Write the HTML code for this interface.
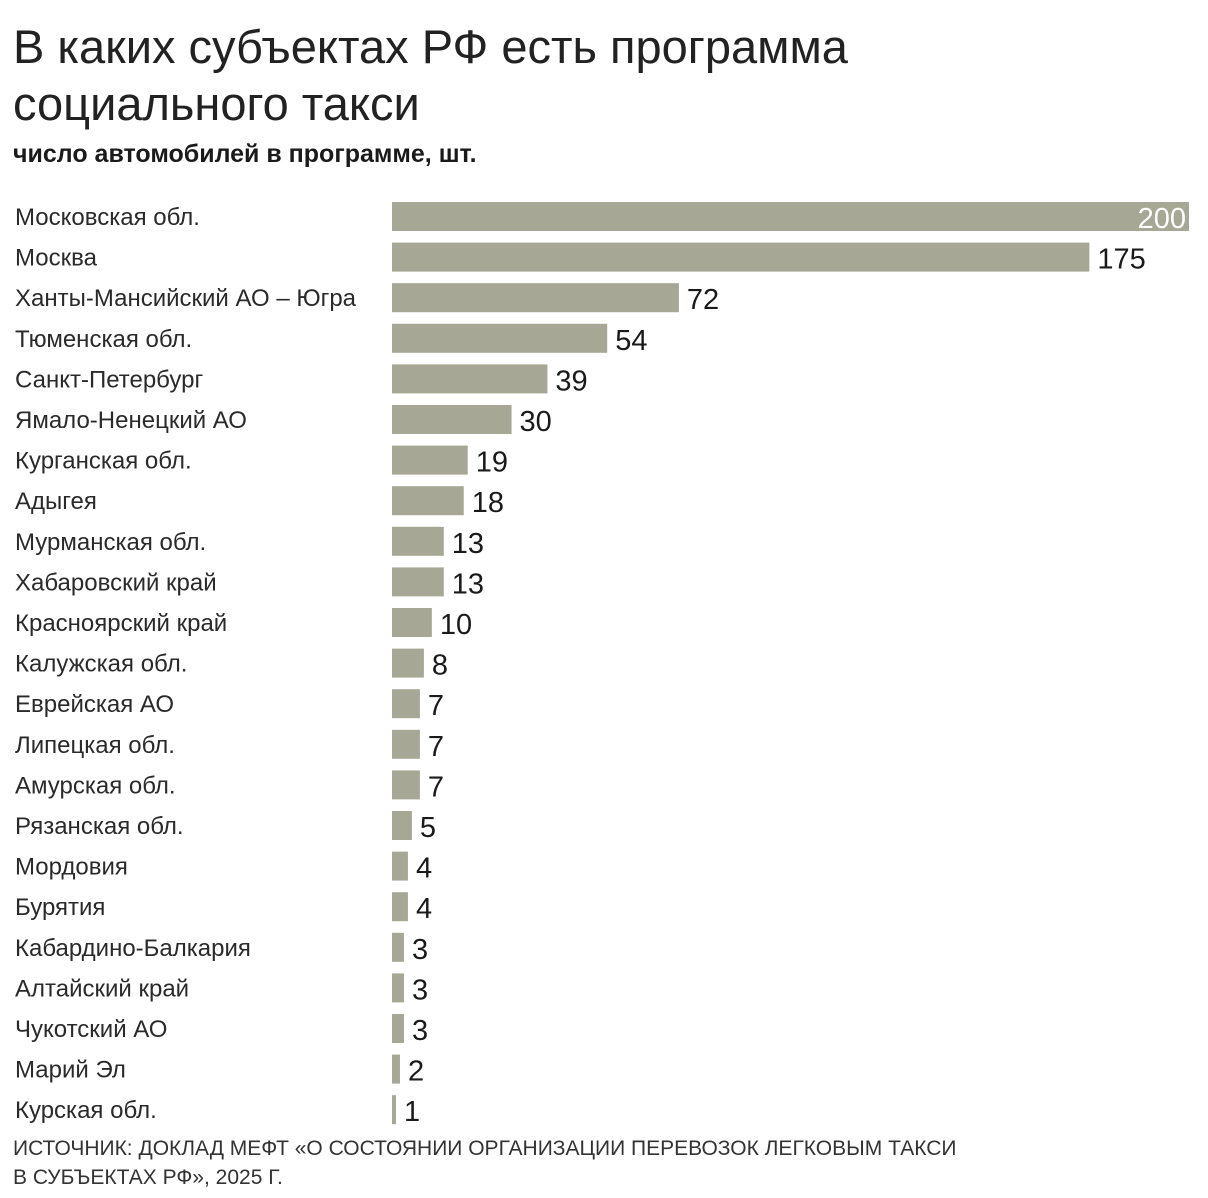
<!DOCTYPE html>
<html><head><meta charset="utf-8">
<style>
body{margin:0;background:#fff;width:1208px;height:1198px;overflow:hidden;font-family:"Liberation Sans","DejaVu Sans",sans-serif;color:#1a1a1a}
.t{position:absolute;left:13px;white-space:nowrap}
</style></head><body>
<div class="t" style="top:18px;font-size:47px;line-height:57px;font-weight:300;color:#222">В каких субъектах РФ есть программа<br>социального такси</div>
<div class="t" style="top:140px;font-size:25px;font-weight:bold">число автомобилей в программе, шт.</div>
<svg id="chart" width="1208" height="1198" style="position:absolute;left:0;top:0" xmlns="http://www.w3.org/2000/svg"></svg>
<div class="t" style="top:1134px;font-size:21px;line-height:29px;color:#333">ИСТОЧНИК: ДОКЛАД МЕФТ «О СОСТОЯНИИ ОРГАНИЗАЦИИ ПЕРЕВОЗОК ЛЕГКОВЫМ ТАКСИ<br>В СУБЪЕКТАХ РФ», 2025 Г.</div>
<script>
const categories=["Московская обл.","Москва","Ханты-Мансийский АО – Югра","Тюменская обл.","Санкт-Петербург","Ямало-Ненецкий АО","Курганская обл.","Адыгея","Мурманская обл.","Хабаровский край","Красноярский край","Калужская обл.","Еврейская АО","Липецкая обл.","Амурская обл.","Рязанская обл.","Мордовия","Бурятия","Кабардино-Балкария","Алтайский край","Чукотский АО","Марий Эл","Курская обл."];
const values=[200,175,72,54,39,30,19,18,13,13,10,8,7,7,7,5,4,4,3,3,3,2,1];
const svg=document.getElementById('chart');
const NS='http://www.w3.org/2000/svg';
const x0=392,xScale=v=>v*(1189-392)/200;
const yRow=i=>202+i*40.6;
const barH=29;
categories.forEach((c,i)=>{
  const y=yRow(i);
  const lab=document.createElementNS(NS,'text');
  
  
  lab.setAttribute('x',15);lab.setAttribute('y',y+23);
  lab.setAttribute('font-size','24');lab.setAttribute('fill','#2a2a2a');
  lab.textContent=c;svg.appendChild(lab);
  const w=xScale(values[i]);
  const r=document.createElementNS(NS,'rect');
  
  
  r.setAttribute('x',x0);r.setAttribute('y',y);r.setAttribute('width',w);r.setAttribute('height',barH);
  r.setAttribute('fill','#a6a794');svg.appendChild(r);
  const v=document.createElementNS(NS,'text');
  
  
  v.setAttribute('font-size','29');
  v.setAttribute('y',y+26);
  if(i===0){v.setAttribute('x',x0+w-3);v.setAttribute('text-anchor','end');v.setAttribute('fill','#fff');}
  else{v.setAttribute('x',x0+w+8);v.setAttribute('fill','#1a1a1a');}
  v.textContent=values[i];svg.appendChild(v);
});
</script>
</body></html>
